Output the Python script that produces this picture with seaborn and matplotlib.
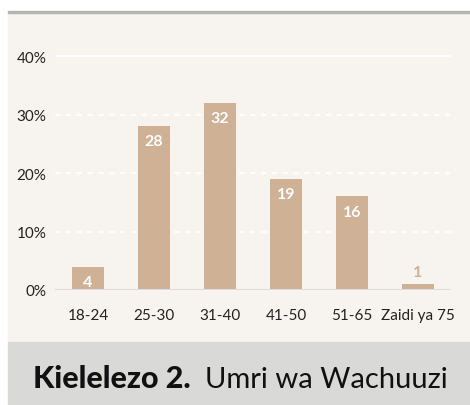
import seaborn as sns
import matplotlib.pyplot as plt
from matplotlib.patches import Rectangle
import pandas as pd

# data
ages = ['18-24', '25-30', '31-40', '41-50', '51-65', 'Zaidi ya 75']
shares = [4, 28, 32, 19, 16, 1]
yticks = [0, 10, 20, 30, 40]

df = pd.DataFrame({'age': ages, 'share': shares})

sns.set_style('white')
plt.rcParams['font.family'] = ['Lato', 'DejaVu Sans']

bar_col = '#cfb195'
panel_col = '#f7f4ef'

fig = plt.figure(figsize=(4.7, 4.06), dpi=100)
fig.patch.set_facecolor('white')
W, H = 470, 406
# panel + caption band + top rule (behind the axes)
for (x0, y0, w, h, c) in [(8, 343, W - 8, 330, panel_col),
                          (8, 405, W - 8, 62, '#d9d9d8'),
                          (8, 14, W - 8, 2, '#b4b4b4')]:
    fig.patches.append(Rectangle((x0 / W, (H - y0) / H), w / W, h / H,
                                 transform=fig.transFigure, color=c, zorder=-5))

ymax = 41
px10 = 58.5
ax = fig.add_axes([55 / W, (H - 291) / H, 396 / W, ymax / 10 * px10 / H])
ax.set_facecolor('none')
sns.barplot(data=df, x='age', y='share', color=bar_col, width=0.485,
            saturation=1, linewidth=0, ax=ax, zorder=3)
ax.set_xlim(-0.5, 5.5)
ax.set_ylim(0, ymax)
ax.set_yticks(yticks)
ax.set_yticklabels([f'{v}%' for v in yticks])
ax.set_xlabel('')
ax.set_ylabel('')
for s in ['top', 'right', 'left', 'bottom']:
    ax.spines[s].set_visible(False)
for v in yticks[1:-1]:
    ax.axhline(v, color='white', lw=1.3, ls=(0, (3, 3)), zorder=1)
ax.axhline(yticks[-1], color='white', lw=1.3, zorder=1)
ax.axhline(0, color='#dcdcdf', lw=1.5, zorder=4)
ax.tick_params(axis='x', length=0, pad=13, labelsize=11, labelcolor='#222222')
ax.tick_params(axis='y', length=0, pad=6, labelsize=11, labelcolor='#222222')

for i, v in enumerate(shares):
    if v >= 3:
        ax.annotate(str(v), (i, v), xytext=(0, -11), textcoords='offset points',
                    ha='center', va='center', color='white', fontsize=11.5,
                    fontweight='bold', zorder=5)
    else:
        ax.annotate(str(v), (i, v), xytext=(0, 9), textcoords='offset points',
                    ha='center', va='center', color=bar_col, fontsize=11.5,
                    fontweight='bold', zorder=5)

fig.text(33 / W, (H - 388) / H, 'Kielelezo 2.', fontsize=22, fontweight='black',
         va='baseline', ha='left', color='#111111')
fig.text(205 / W, (H - 388) / H, 'Umri wa Wachuuzi', fontsize=21,
         va='baseline', ha='left', color='#111111')

plt.savefig('out.png', dpi=100)
